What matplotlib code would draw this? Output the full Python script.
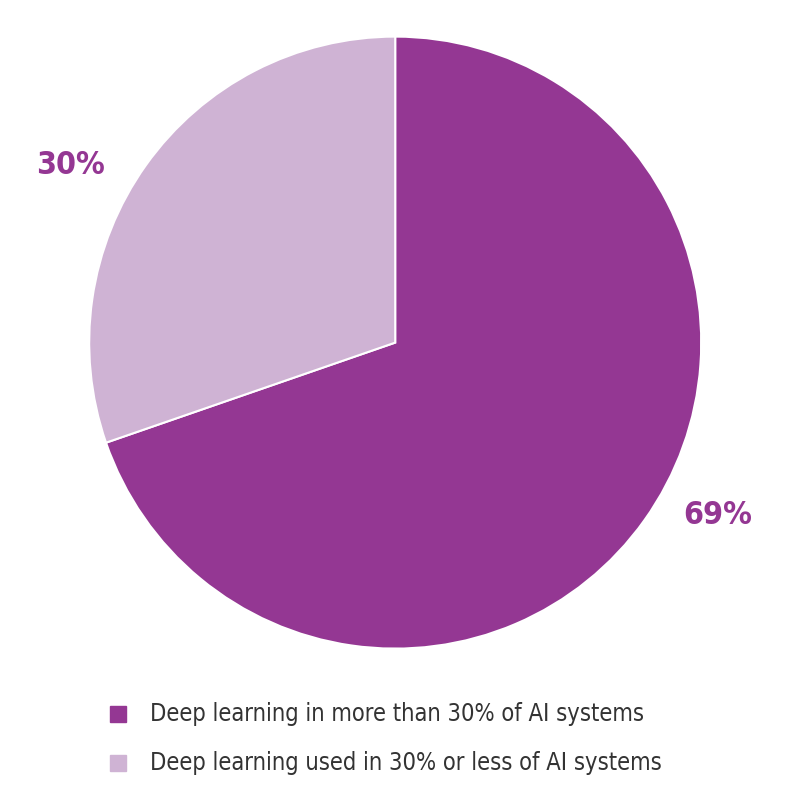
import matplotlib.pyplot as plt
from matplotlib.patches import Rectangle

labels = ['Deep learning in more than 30% of AI systems',
          'Deep learning used in 30% or less of AI systems']
values = [69, 30]
pct_labels = ['69%', '30%']
colors = ['#943793', '#CFB3D4']

plt.rcParams['font.family'] = ['DejaVu Sans']
plt.rcParams['font.stretch'] = 'condensed'

fig = plt.figure(figsize=(8, 8.09), dpi=100)
ax = fig.add_axes([0.494 - 0.3825, 0.576 - 0.378, 0.765, 0.757])
ax.pie(values, colors=colors, startangle=90, counterclock=False, radius=1,
       wedgeprops=dict(edgecolor='white', linewidth=1.5))
ax.set_xlim(-1, 1)
ax.set_ylim(-1, 1)
ax.set_aspect('equal')
ax.axis('off')

# percentage labels
fig.text(718 / 800, 1 - 515 / 809, pct_labels[0], color='#943793',
         fontsize=23, fontweight='bold', ha='center', va='center', fontstretch='condensed')
fig.text(70 / 800, 1 - 165 / 809, pct_labels[1], color='#943793',
         fontsize=23, fontweight='bold', ha='center', va='center', fontstretch='condensed')

# legend
for i, (lab, col) in enumerate(zip(labels, colors)):
    y = 1 - (714 + i * 49) / 809
    fig.patches.append(Rectangle((110 / 800, y - 8 / 809), 16 / 800, 16 / 809,
                                 transform=fig.transFigure, color=col))
    fig.text(150 / 800, y, lab, fontsize=17, color='#333333', va='center', ha='left',
             fontstretch='condensed')

fig.savefig('out.png', dpi=100)
